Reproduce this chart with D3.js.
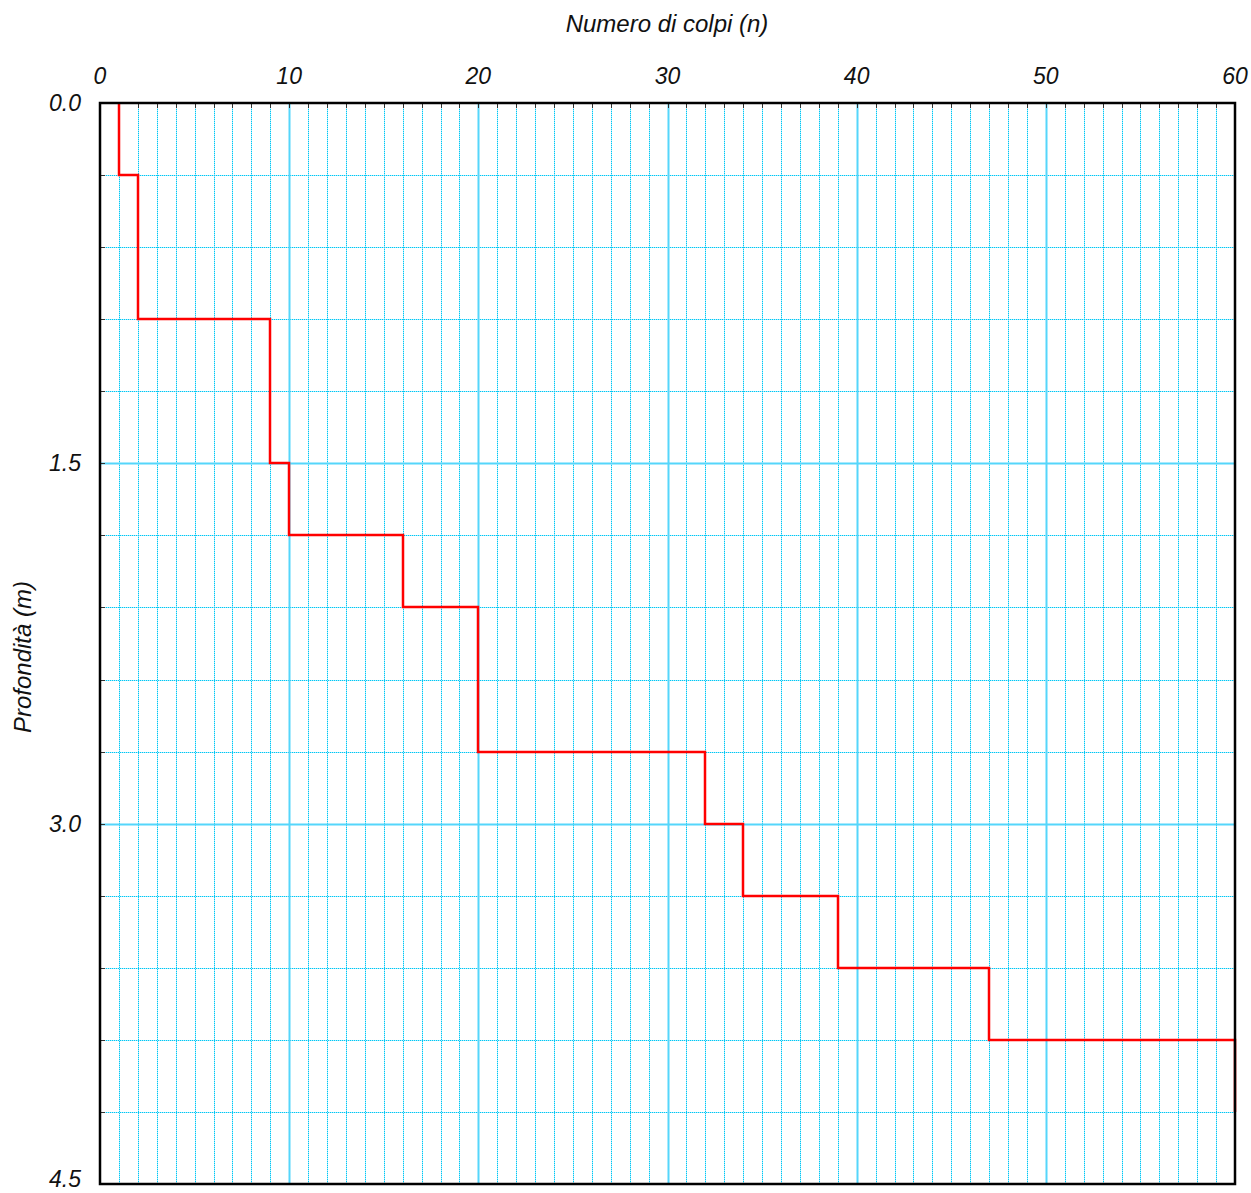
<!DOCTYPE html>
<html><head><meta charset="utf-8">
<script src="https://cdn.jsdelivr.net/npm/d3@7"></script>
<style>body{margin:0;background:#fff}svg{display:block}text{font-family:"Liberation Sans",Arial,sans-serif;font-style:italic;fill:#111}</style>
</head><body><svg id="c" width="1251" height="1193"></svg>
<script>
// Step profile: depth intervals (m) and blow counts
const depthTop = [0.0, 0.3, 0.9, 1.5, 1.8, 2.1, 2.7, 3.0, 3.3, 3.6, 3.9];
const depthBottom = [0.3, 0.9, 1.5, 1.8, 2.1, 2.7, 3.0, 3.3, 3.6, 3.9, 4.2];
const blows = [1, 2, 9, 10, 16, 20, 32, 34, 39, 47, 60];
const xTickLabels = [0, 10, 20, 30, 40, 50, 60];
const yTickLabels = [0.0, 1.5, 3.0, 4.5];
const xTitle = "Numero di colpi (n)";
const yTitle = "Profondità (m)";

const svg = d3.select("#c");
const L = 100, T = 103, R = 1235, B = 1184;
const x = d3.scaleLinear().domain([0, 60]).range([L, R]);
const y = d3.scaleLinear().domain([0, 4.5]).range([T, B]);
const px = d => Math.round(x(d)) + 0.5;
const py = d => Math.round(y(d)) + 0.5;
const gridDark = "#00c8f4";
const gridLight = "#a6eafc";
const major = "#55d6fb";

const g = svg.append("g");
// minor grid: light base + dotted darker overlay
const xMinor = d3.range(1, 60).filter(v => v % 10 !== 0);
const yMinor = d3.range(1, 15).filter(i => i % 5 !== 0).map(i => i * 0.3);
[[gridLight, null], [gridDark, "1,1"]].forEach(([col, dash]) => {
  g.append("g").selectAll("line").data(xMinor).join("line")
    .attr("x1", px).attr("x2", px).attr("y1", T).attr("y2", B)
    .attr("stroke", col).attr("stroke-width", 1).attr("stroke-dasharray", dash);
  g.append("g").selectAll("line").data(yMinor).join("line")
    .attr("y1", py).attr("y2", py).attr("x1", L).attr("x2", R)
    .attr("stroke", col).attr("stroke-width", 1).attr("stroke-dasharray", dash);
});
// major grid
g.selectAll(".VX").data([10, 20, 30, 40, 50]).join("line")
  .attr("x1", px).attr("x2", px).attr("y1", T).attr("y2", B)
  .attr("stroke", major).attr("stroke-width", 2);
g.selectAll(".HY").data([1.5, 3.0]).join("line")
  .attr("y1", py).attr("y2", py).attr("x1", L).attr("x2", R)
  .attr("stroke", major).attr("stroke-width", 2);

// tick marks (inside)
g.selectAll(".tx").data(d3.range(1, 60)).join("line")
  .attr("x1", px).attr("x2", px).attr("y1", T).attr("y2", T + 5)
  .attr("stroke", "#333").attr("stroke-width", 1);
g.selectAll(".ty").data(d3.range(1, 15).map(i => i * 0.3)).join("line")
  .attr("y1", py).attr("y2", py).attr("x1", L).attr("x2", L + 5)
  .attr("stroke", "#333").attr("stroke-width", 1);

// step line
const pts = [];
blows.forEach((b, i) => { pts.push([b, depthTop[i]]); pts.push([b, depthBottom[i]]); });
svg.append("path").datum(pts)
  .attr("d", d3.line().x(d => Math.round(x(d[0]))).y(d => Math.round(y(d[1]))))
  .attr("fill", "none").attr("stroke", "#ff0000").attr("stroke-width", 2.5);

// frame
svg.append("rect").attr("x", L).attr("y", T).attr("width", R - L).attr("height", B - T)
  .attr("fill", "none").attr("stroke", "#000").attr("stroke-width", 2.5);

// labels
svg.selectAll(".xl").data(xTickLabels).join("text")
  .attr("x", d => x(d)).attr("y", 84).attr("text-anchor", "middle")
  .attr("font-size", 23).text(d => d);
svg.selectAll(".yl").data(yTickLabels).join("text")
  .attr("x", 81).attr("y", d => Math.min(y(d) + 8, 1187)).attr("text-anchor", "end")
  .attr("font-size", 23).text(d => d.toFixed(1));
svg.append("text").attr("x", 667).attr("y", 32).attr("text-anchor", "middle")
  .attr("font-size", 24).text(xTitle);
svg.append("text").attr("transform", "translate(31,657) rotate(-90)").attr("text-anchor", "middle")
  .attr("font-size", 24).text(yTitle);
</script></body></html>
